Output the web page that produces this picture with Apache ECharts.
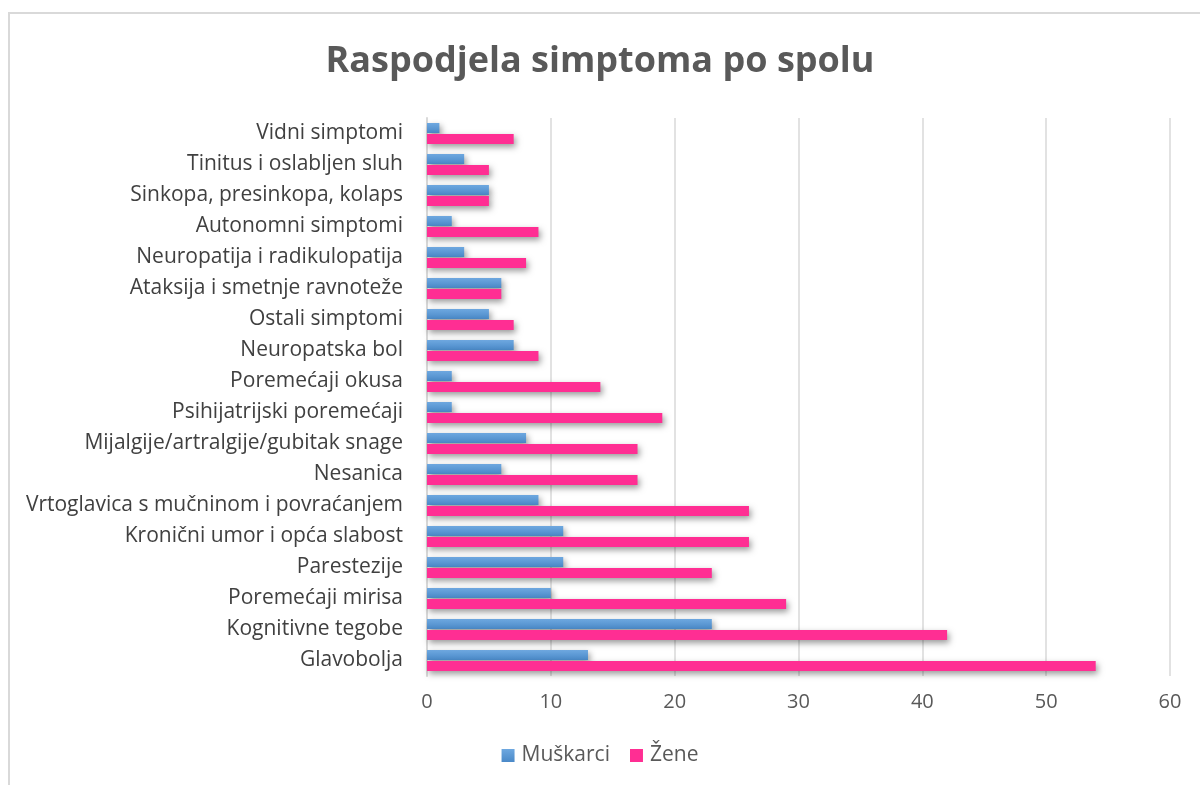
<!DOCTYPE html>
<html><head><meta charset="utf-8">
<script src="https://cdn.jsdelivr.net/npm/echarts@6/dist/echarts.min.js"></script>
<style>html,body{margin:0;padding:0;background:#fff}#c{width:1200px;height:785px}</style>
</head><body><div id="c"></div>
<script>
const categories = ["Vidni simptomi","Tinitus i oslabljen sluh","Sinkopa, presinkopa, kolaps","Autonomni simptomi","Neuropatija i radikulopatija","Ataksija i smetnje ravnoteže","Ostali simptomi","Neuropatska bol","Poremećaji okusa","Psihijatrijski poremećaji","Mijalgije/artralgije/gubitak snage","Nesanica","Vrtoglavica s mučninom i povraćanjem","Kronični umor i opća slabost","Parestezije","Poremećaji mirisa","Kognitivne tegobe","Glavobolja"];
const muskarci = [1,3,5,2,3,6,5,7,2,2,8,6,9,11,11,10,23,13];
const zene = [7,5,5,9,8,6,7,9,14,19,17,17,26,26,23,29,42,54];
const seriesNames = ["Muškarci","Žene"];

const chart = echarts.init(document.getElementById('c'));
const font = '"Open Sans", sans-serif';
const shadow = {shadowColor:'rgba(0,0,0,0.4)', shadowBlur:6, shadowOffsetX:2, shadowOffsetY:3};
chart.setOption({
  animation:false,
  backgroundColor:'#fff',
  graphic:[{type:'rect', shape:{x:9, y:13, width:1300, height:900}, style:{fill:'none', stroke:'#d9d9d9', lineWidth:2}}],
  title:{text:'Raspodjela simptoma po spolu', left:'center', top:39,
    textStyle:{fontFamily:font, fontWeight:'bold', fontSize:36, color:'#595959'}},
  legend:{bottom:14, left:'center', itemWidth:13, itemHeight:13, itemGap:20, icon:'rect',
    textStyle:{fontFamily:font, fontSize:21, color:'#595959', padding:[0,0,0,2]}, data:seriesNames},
  grid:{left:427, right:30, top:118, bottom:109},
  xAxis:{type:'value', min:0, max:60, interval:10,
    axisLine:{show:false}, axisTick:{show:false},
    splitLine:{lineStyle:{color:'#d9d9d9', width:1.5}},
    axisLabel:{fontFamily:font, fontSize:20, color:'#595959', margin:16}},
  yAxis:{type:'category', inverse:true, data:categories,
    axisLine:{lineStyle:{color:'#d9d9d9', width:2}}, axisTick:{show:false},
    axisLabel:{fontFamily:font, fontSize:21, color:'#404040', margin:24}},
  series:[
    {name:seriesNames[0], type:'bar', data:muskarci, barWidth:10, barGap:'10%',
      itemStyle:Object.assign({color:new echarts.graphic.LinearGradient(0,0,0,1,[{offset:0,color:'#6ea8e0'},{offset:1,color:'#4a89c8'}])}, shadow)},
    {name:seriesNames[1], type:'bar', data:zene, barWidth:10, barGap:'10%',
      itemStyle:Object.assign({color:'#ff2e93'}, shadow)}
  ]
});
</script></body></html>
